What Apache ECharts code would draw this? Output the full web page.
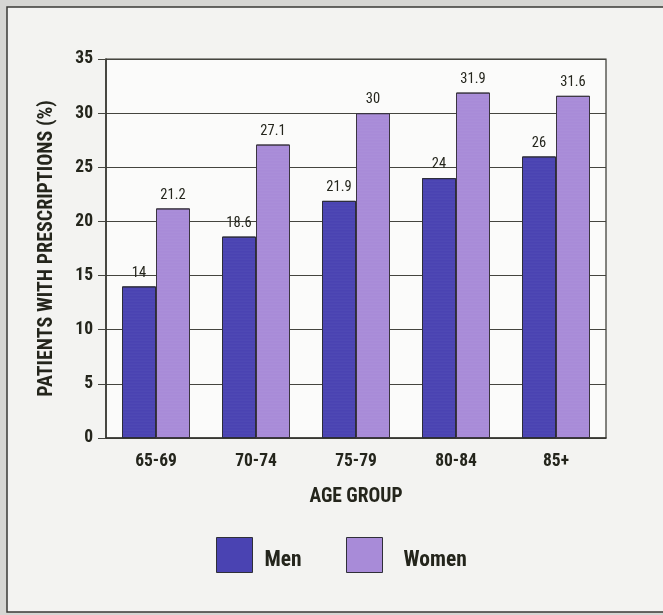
<!DOCTYPE html>
<html>
<head>
<meta charset="utf-8">
<script src="https://cdn.jsdelivr.net/npm/echarts@6/dist/echarts.min.js"></script>
<style>
  html, body { margin: 0; padding: 0; background: #d6d6d3; }
  #chart { width: 663px; height: 615px; }
</style>
</head>
<body>
<div id="chart"></div>
<script>
// Share of older patients with benzodiazepine prescriptions, by age group and sex
const ageGroups = ['65-69', '70-74', '75-79', '80-84', '85+'];
const seriesNames = ['Men', 'Women'];
const menValues = [14, 18.6, 21.9, 24, 26];
const womenValues = [21.2, 27.1, 30, 31.9, 31.6];
const yTicks = { min: 0, max: 35, step: 5 };

const FONT = '"Roboto Condensed", "Open Sans Condensed", sans-serif';
const INK = '#24251c';
const MEN = '#4a43b2';
const WOMEN = '#a88bd8';

// fine dot screen printed over the bar fills
const dotScreen = {
  symbol: 'circle',
  symbolSize: 0.6,
  dashArrayX: [2, 0],
  dashArrayY: [2, 1],
  color: 'rgba(255,255,255,0.10)'
};

const chart = echarts.init(document.getElementById('chart'), null, { renderer: 'canvas' });

const valueLabel = {
  show: true,
  position: 'top',
  distance: 6,
  fontFamily: FONT,
  fontSize: 14.5,
  color: INK
};

// legend swatches and captions, drawn as a small graphic group
function legendItem(x, textX, name, fill) {
  return {
    type: 'group',
    left: x,
    top: 537,
    children: [
      {
        type: 'rect',
        shape: { x: 0, y: 0, width: 36, height: 35 },
        style: { fill: fill, stroke: '#2f2f38', lineWidth: 1 }
      },
      {
        type: 'text',
        x: textX,
        y: 23,
        style: {
          text: name,
          fontFamily: FONT,
          fontSize: 21.5,
          fontWeight: 'bold',
          fill: INK,
          verticalAlign: 'middle'
        }
      }
    ]
  };
}

chart.setOption({
  backgroundColor: '#d6d6d3',
  animation: false,
  textStyle: { fontFamily: FONT, color: INK },
  graphic: [
    {
      type: 'rect',
      z: -10,
      silent: true,
      shape: { x: 7, y: 7, width: 700, height: 605 },
      style: { fill: '#f3f3f1', stroke: '#3a3a36', lineWidth: 1.5 }
    },
    legendItem(216, 48, seriesNames[0], MEN),
    legendItem(346, 57, seriesNames[1], WOMEN)
  ],
  grid: {
    left: 106,
    top: 59,
    right: 57,
    bottom: 177,
    show: true,
    backgroundColor: '#fbfbfa',
    borderColor: '#35352f',
    borderWidth: 1.2,
    containLabel: false
  },
  legend: { show: false },
  xAxis: {
    type: 'category',
    data: ageGroups,
    name: 'AGE GROUP',
    nameLocation: 'middle',
    nameGap: 49,
    nameTextStyle: { fontFamily: FONT, fontSize: 19.5, fontWeight: 'bold', color: INK },
    axisLine: { show: true, lineStyle: { color: '#35352f', width: 1.5 } },
    axisTick: { show: false },
    axisLabel: { margin: 15, fontFamily: FONT, fontSize: 17.5, fontWeight: 'bold', color: INK },
    splitLine: { show: false }
  },
  yAxis: {
    type: 'value',
    min: yTicks.min,
    max: yTicks.max,
    interval: yTicks.step,
    name: 'PATIENTS WITH PRESCRIPTIONS (%)',
    nameLocation: 'middle',
    nameRotate: 90,
    nameGap: 49,
    nameTextStyle: { fontFamily: FONT, fontSize: 20, fontWeight: 'bold', color: INK },
    axisLine: { show: true, lineStyle: { color: '#35352f', width: 1.5 } },
    axisTick: { show: true, length: 8, lineStyle: { color: '#45453f', width: 1 } },
    axisLabel: { margin: 13, fontFamily: FONT, fontSize: 17.5, fontWeight: 'bold', color: INK },
    splitLine: { show: true, lineStyle: { color: '#45453f', width: 1 } }
  },
  series: [
    {
      name: seriesNames[0],
      type: 'bar',
      data: menValues,
      barWidth: 34,
      barGap: '0%',
      itemStyle: { color: MEN, borderColor: '#2c2c3a', borderWidth: 1, decal: dotScreen },
      label: valueLabel
    },
    {
      name: seriesNames[1],
      type: 'bar',
      data: womenValues,
      barWidth: 34,
      barGap: '0%',
      itemStyle: { color: WOMEN, borderColor: '#3a3540', borderWidth: 1, decal: dotScreen },
      label: valueLabel
    }
  ]
});
</script>
</body>
</html>
